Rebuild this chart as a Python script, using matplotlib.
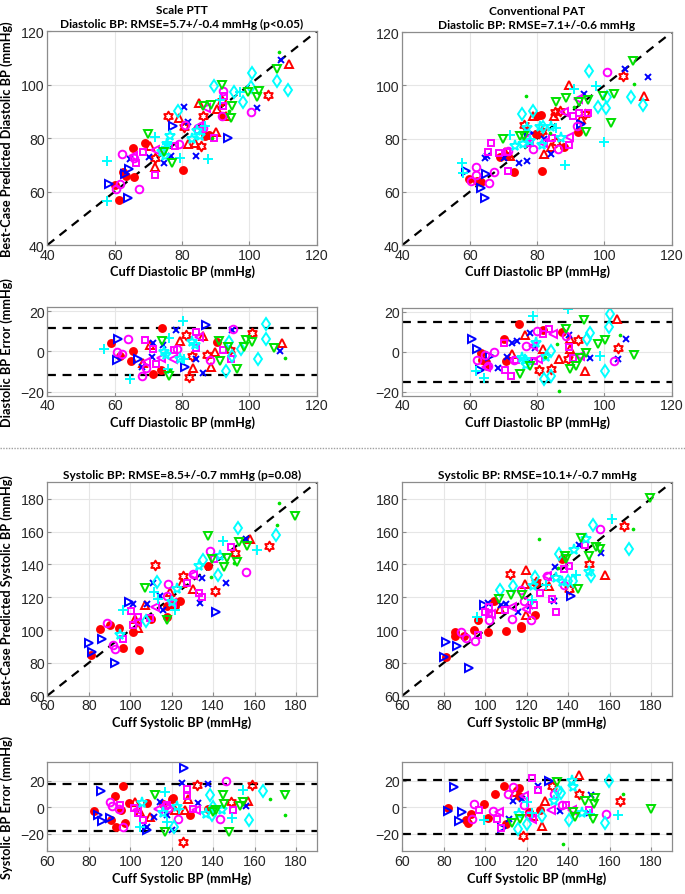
import numpy as np
import matplotlib.pyplot as plt
from matplotlib.path import Path

# ---------------- data ----------------
# each dict: subject -> (cuff values, predicted / error values)

ptt_dia = {
    "rf": ([60.2, 61.2, 62.4, 63.4, 65.5, 65.7, 69.0, 80.2, 87.9, 92.1, 86.8],
           [62.6, 56.8, 67.2, 66.0, 76.3, 65.3, 78.2, 68.2, 81.2, 88.2, 81.0]),
    "rh": ([75.9, 86.3, 80.6, 85.7, 92.0, 105.5, 72.0],
           [88.4, 88.2, 84.0, 77.2, 93.8, 96.2, 72.5]),
    "rt": ([79.2, 85.1, 90.3, 93.1, 90.0, 111.9, 70.5, 72.0, 81.9, 83.9],
           [87.4, 93.2, 91.0, 88.2, 82.2, 107.8, 76.9, 69.1, 77.8, 78.2]),
    "bx": ([80.7, 81.9, 102.2, 109.3, 70.3, 74.5, 76.6, 84.0, 64.4],
           [91.5, 85.9, 91.3, 109.3, 72.8, 70.7, 73.4, 73.2, 72.3]),
    "br": ([58.4, 64.1, 64.3, 77.4, 93.5, 63.0],
           [62.8, 57.6, 68.4, 84.7, 79.9, 66.5]),
    "mo": ([62.1, 60.4, 61.6, 67.1, 100.4, 92.1, 91.8, 79.2, 81.0, 86.3, 65.7],
           [74.1, 60.9, 62.8, 60.9, 89.7, 97.8, 88.4, 77.8, 84.9, 83.7, 72.6]),
    "ms": ([72.0, 68.5, 66.3, 78.0, 89.4, 92.3, 92.5, 84.8],
           [66.2, 74.7, 70.7, 77.2, 79.9, 91.9, 95.9, 83.2]),
    "ml": ([65.5, 72.0, 87.0, 85.0, 74.0],
           [73.4, 75.7, 91.2, 84.7, 75.4]),
    "cp": ([57.6, 57.6, 72.0, 79.4, 87.8, 91.3, 97.2, 86.9, 75.5],
           [71.3, 56.3, 80.3, 72.7, 72.2, 94.4, 97.2, 84.7, 78.0]),
    "cs": ([75.4, 75.0, 76.4, 82.9, 85.3, 84.3, 74.0],
           [77.8, 73.4, 80.9, 79.7, 80.9, 82.8, 75.0]),
    "cd": ([78.9, 89.4, 95.5, 98.2, 100.7, 100.4, 108.1, 111.6],
           [90.3, 99.4, 97.4, 93.4, 104.4, 99.0, 101.5, 98.2]),
    "gv": ([70.0, 76.9, 86.3, 88.5, 92.0, 94.8, 94.5, 99.7, 102.4, 103.0, 108.3, 74.5],
           [81.5, 70.7, 92.2, 92.4, 100.0, 92.2, 87.5, 97.2, 95.3, 97.8, 105.9, 74.7]),
    "gd": ([108.9, 94.0, 89.0],
           [112.1, 90.0, 80.0]),
}

pat_dia = {
    "rf": ([59.9, 62.2, 63.3, 68.9, 73.2, 80.1, 81.3, 81.5, 88.0, 92.3, 79.8, 71.1],
           [64.8, 64.2, 63.8, 73.1, 67.3, 88.7, 88.9, 67.7, 77.0, 82.6, 81.8, 73.6]),
    "rh": ([76.0, 85.2, 86.7, 94.4, 105.5, 80.5, 81.6, 85.7],
           [85.1, 90.2, 90.3, 89.3, 103.7, 82.1, 82.9, 78.6]),
    "rt": ([70.4, 82.0, 78.8, 84.9, 89.5, 93.2, 111.9, 84.2, 71.9],
           [74.9, 74.4, 88.7, 88.7, 100.2, 87.4, 96.2, 76.7, 73.6]),
    "bx": ([64.5, 65.2, 70.1, 74.7, 76.9, 82.0, 84.2, 93.9, 106.1, 113.0],
           [72.6, 73.4, 72.6, 70.7, 71.7, 79.9, 74.2, 96.9, 106.2, 103.3]),
    "br": ([58.9, 63.5, 64.5, 65.0, 77.5, 93.2],
           [68.0, 61.6, 57.6, 66.7, 82.1, 85.5]),
    "mo": ([60.5, 62.0, 61.8, 65.7, 67.3, 78.8, 86.2, 91.8, 100.7, 71.4],
           [64.2, 66.3, 69.2, 63.3, 67.3, 76.1, 76.1, 84.6, 105.2, 75.5]),
    "ms": ([66.2, 65.5, 68.7, 71.5, 71.2, 77.8, 84.5, 89.5, 90.7, 92.4, 95.1],
           [78.4, 74.9, 74.6, 68.0, 75.1, 78.4, 80.1, 77.6, 88.4, 89.5, 89.6]),
    "ml": ([76.6, 81.8, 87.9, 89.5, 92.1],
           [79.9, 78.4, 89.9, 80.5, 94.9]),
    "cp": ([57.7, 58.1, 71.9, 88.2, 90.9, 97.6, 100.0, 85.5],
           [70.8, 67.0, 81.4, 70.1, 98.7, 99.9, 78.6, 84.0]),
    "cs": ([73.4, 75.9, 77.8, 81.6, 84.2, 87.2, 77.0, 81.0],
           [77.4, 78.0, 79.2, 77.7, 84.3, 80.1, 84.0, 84.5]),
    "cd": ([75.4, 78.8, 95.4, 98.1, 100.4, 100.7, 108.0, 111.6, 81.8],
           [89.3, 90.4, 105.3, 91.8, 91.4, 95.5, 95.5, 92.7, 84.3]),
    "gv": ([69.9, 74.9, 76.0, 85.7, 88.5, 92.4, 94.6, 95.1, 99.6, 103.0, 102.1, 108.4],
           [79.9, 81.1, 81.1, 93.7, 95.2, 93.7, 82.4, 94.7, 96.2, 96.8, 85.9, 109.3]),
    "gd": ([76.6, 108.9, 84.0, 91.0],
           [96.2, 100.6, 82.0, 92.0]),
}

ptt_dia_err = {
    "rf": ([58.8, 61.6, 65.5, 64.7, 74.0, 73.7, 71.3, 90.3],
           [4.2, -2.5, 0.3, -4.7, 11.5, -9.2, -11.3, 4.5]),
    "rh": ([81.1, 82.2, 87.3, 94.3, 100.9, 82.9],
           [8.2, -12.5, -1.8, 0.7, 9.0, -2.2]),
    "rt": ([70.5, 79.4, 86.1, 83.4, 88.5, 89.7, 109.8, 68.5],
           [3.2, 5.3, 7.8, -8.0, -7.5, -0.2, 4.0, -5.5]),
    "bx": ([68.2, 71.3, 74.2, 78.2, 71.2, 84.1, 86.1, 94.7, 109.1],
           [-7.5, 4.2, 3.3, 10.8, -3.0, -3.8, -10.8, 10.8, 0.3]),
    "br": ([61.1, 60.8, 67.0, 80.9, 87.0],
           [6.2, -4.2, -3.8, -7.5, 13.3]),
    "mo": ([64.1, 60.6, 62.1, 68.1, 69.3, 78.4, 95.2, 88.3],
           [6.2, -0.5, -1.3, -12.2, -8.0, 1.2, 11.2, -4.2]),
    "ms": ([69.0, 71.5, 72.3, 77.6, 84.0, 84.0, 92.3, 94.5],
           [5.8, 1.2, -6.3, 0.8, 9.5, 1.7, 0.7, -3.8]),
    "ml": ([69.3, 73.7, 77.4, 85.1],
           [-5.2, -3.5, -3.8, 7.0]),
    "cp": ([56.8, 64.4, 76.2, 75.9, 80.2, 80.6],
           [1.2, -13.5, 6.5, -8.5, 15.3, -3.8]),
    "cs": ([74.5, 75.2, 79.4, 82.9, 83.9],
           [-0.2, -1.8, -3.8, 4.8, 3.2]),
    "cd": ([94.0, 94.7, 97.4, 93.1, 102.7, 105.0, 105.0],
           [4.8, -2.5, 1.2, -9.7, -3.8, 13.7, 6.2]),
    "gv": ([74.0, 76.2, 91.1, 91.3, 93.5, 96.4, 98.9, 98.4, 100.7, 107.4],
           [5.3, -12.2, 5.3, -4.7, 2.0, -8.5, 5.8, 2.0, 4.5, 1.5]),
    "gd": ([110.6, 76.5],
           [-3.3, -9.0]),
}

pat_dia_err = {
    "rf": ([63.5, 63.8, 64.8, 70.2, 70.9, 74.7, 81.8, 87.5, 65.1],
           [-0.5, -3.9, -5.2, 6.6, -4.4, 14.1, 10.9, 9.9, -6.9]),
    "rh": ([80.6, 84.2, 89.1, 92.1, 104.0],
           [-8.9, -8.6, -3.5, 5.9, 2.0]),
    "rt": ([72.7, 76.4, 81.8, 86.4, 89.9, 89.7, 94.4, 103.7],
           [-1.3, 8.2, 1.2, -3.4, 6.2, 1.2, -9.7, 16.3]),
    "bx": ([68.4, 71.1, 72.7, 74.1, 77.8, 77.8, 79.5, 89.4, 95.6, 104.0, 106.3],
           [-8.1, -2.7, 4.2, 5.4, 9.6, -5.0, 2.0, 8.4, -3.0, -3.4, 6.6]),
    "br": ([60.8, 62.2, 63.0, 66.0],
           [6.6, 1.5, -8.9, -2.2]),
    "mo": ([62.2, 64.5, 65.5, 67.2, 73.1, 76.8, 80.0, 88.7, 103.0],
           [-3.9, -1.8, -7.2, -0.2, -3.9, 2.9, 10.4, 7.9, -4.7]),
    "ms": ([70.1, 70.4, 72.4, 73.7, 79.1, 81.8, 83.6, 89.5, 90.7],
           [4.5, -9.2, -12.3, -4.2, -4.4, 8.7, 11.6, 2.4, -3.0]),
    "ml": ([64.9, 78.8, 80.3, 84.7, 92.8],
           [-7.6, 2.9, -3.5, 9.1, -2.2]),
    "cp": ([62.0, 64.2, 78.8, 89.2, 98.6],
           [-9.7, -13.1, 18.0, 21.7, -2.2]),
    "cs": ([75.4, 76.4, 76.8, 79.6, 82.8],
           [-3.0, -3.9, -6.4, 4.5, -2.5]),
    "cd": ([82.0, 84.2, 84.2, 94.8, 95.8, 100.3, 101.5, 101.7],
           [-13.4, -12.3, 0.3, 6.2, 9.2, -9.7, 12.4, 18.8]),
    "gv": ([74.9, 77.8, 88.7, 89.7, 91.7, 92.8, 93.9, 94.5, 98.1, 100.1, 108.9],
           [-10.9, -7.2, 11.6, -8.6, -7.2, -3.0, 15.8, -0.8, 3.7, 5.7, -1.8]),
    "gd": ([104.5, 86.5, 82.5, 86.0],
           [8.2, -19.8, -2.5, 4.0]),
}

ptt_sys = {
    "rf": ([81.1, 85.4, 90.2, 94.8, 96.7, 104.2, 101.5, 110.0, 117.6, 117.6, 121.6, 124.0, 137.7],
           [84.8, 100.7, 103.3, 101.1, 88.9, 88.1, 98.6, 106.8, 107.8, 114.9, 114.9, 117.6, 138.9]),
    "rh": ([112.0, 125.3, 140.9, 150.6, 167.2],
           [139.7, 132.8, 123.7, 147.0, 151.1]),
    "rt": ([102.3, 103.9, 107.1, 119.2, 124.8, 130.5, 157.8, 120.0],
           [106.8, 101.3, 115.5, 123.0, 128.7, 125.1, 155.2, 116.0]),
    "bx": ([110.8, 101.5, 108.0, 114.4, 116.0, 134.5, 133.7, 146.2, 155.9],
           [128.7, 115.9, 115.9, 121.0, 111.9, 131.6, 116.3, 128.7, 155.2]),
    "br": ([80.3, 81.4, 86.2, 92.7, 99.6, 141.4],
           [92.1, 86.8, 94.6, 79.9, 116.9, 110.8]),
    "mo": ([88.6, 92.7, 118.4, 117.6, 130.5, 138.5, 155.9, 91.5],
           [104.3, 88.5, 128.1, 121.0, 134.2, 148.0, 135.3, 91.0]),
    "ms": ([100.2, 96.4, 101.5, 103.9, 109.6, 127.3, 133.0, 134.5, 140.5, 148.7],
           [111.3, 94.6, 103.1, 107.8, 107.4, 128.7, 122.6, 120.4, 143.4, 150.5]),
    "ml": ([112.0, 120.0, 130.5, 103.5],
           [114.3, 116.5, 133.6, 105.0]),
    "cp": ([96.4, 111.7, 121.6, 145.0, 161.0, 113.5],
           [111.9, 123.0, 111.9, 154.0, 148.5, 119.0]),
    "cs": ([95.1, 122.7, 133.0, 143.3, 120.0],
           [97.0, 125.1, 138.9, 145.0, 117.0]),
    "cd": ([113.1, 107.6, 135.3, 142.2, 151.8, 170.4],
           [129.1, 105.2, 142.4, 133.8, 162.1, 157.6]),
    "gv": ([107.1, 137.7, 139.3, 145.3, 146.9, 151.4, 152.7, 156.2, 179.7, 117.6],
           [125.5, 157.2, 143.0, 138.3, 143.8, 141.4, 153.6, 151.1, 169.2, 105.8]),
    "gd": ([171.7, 170.7, 138.8, 150.0],
           [177.6, 164.1, 132.6, 141.0]),
}

pat_sys = {
    "rf": ([81.3, 85.2, 85.2, 90.0, 94.8, 96.4, 101.2, 104.4, 110.0, 117.2, 117.2, 124.1, 137.2, 124.5],
           [83.4, 98.6, 96.6, 96.2, 100.3, 105.8, 99.0, 117.6, 99.7, 101.1, 102.3, 109.2, 143.0, 128.7]),
    "rh": ([111.9, 124.7, 140.4, 150.0, 167.2],
           [134.2, 129.1, 124.7, 140.3, 163.3]),
    "rt": ([107.1, 119.3, 119.9, 130.8, 158.0, 119.6],
           [112.9, 128.1, 136.3, 126.7, 133.6, 109.2]),
    "bx": ([101.4, 107.6, 110.0, 115.6, 121.5, 133.7, 133.2, 145.5, 155.9],
           [116.3, 115.3, 115.9, 110.8, 114.9, 138.3, 117.6, 151.5, 146.8]),
    "br": ([81.3, 86.4, 80.0, 92.4, 99.6, 141.2],
           [92.9, 90.5, 83.4, 76.7, 115.3, 121.0]),
    "mo": ([88.4, 90.8, 95.3, 102.0, 112.7, 117.2, 118.8, 122.0, 130.0, 138.0, 155.6],
           [99.0, 95.2, 93.1, 105.8, 106.8, 124.1, 117.4, 105.8, 133.2, 127.7, 161.7]),
    "ms": ([96.4, 100.1, 101.7, 102.0, 109.7, 123.6, 126.3, 132.1, 134.3, 138.0, 140.4, 148.4],
           [97.0, 110.8, 113.9, 109.8, 112.5, 115.3, 122.6, 118.6, 110.8, 136.9, 138.7, 151.5]),
    "ml": ([102.8, 112.9, 119.6, 130.0],
           [109.8, 113.9, 112.9, 133.0]),
    "cp": ([96.0, 129.2, 143.6, 161.2, 122.5],
           [107.8, 127.7, 133.6, 167.4, 118.0]),
    "cs": ([123.1, 137.2, 142.8, 134.0, 148.7, 150.0],
           [127.1, 129.1, 148.5, 131.6, 155.6, 135.3]),
    "cd": ([107.3, 113.2, 124.1, 135.6, 140.1, 142.3, 152.0, 151.2, 169.5],
           [124.1, 126.7, 132.2, 146.4, 129.6, 129.6, 163.7, 132.8, 149.5]),
    "gv": ([106.8, 112.4, 117.7, 138.5, 139.1, 146.4, 150.0, 153.5, 155.6, 144.8, 179.5],
           [118.6, 121.4, 121.4, 145.4, 143.0, 156.0, 145.4, 150.5, 149.1, 125.1, 180.4]),
    "gd": ([126.0, 171.2, 135.0],
           [155.2, 161.3, 138.0]),
}

ptt_sys_err = {
    "rf": ([82.7, 92.7, 96.7, 93.0, 90.7, 99.6, 95.4, 97.7, 108.3, 116.0, 120.0, 120.8, 128.9, 137.7],
           [-3.0, 8.1, 15.7, -14.7, -9.4, 3.3, -2.0, -12.4, 3.3, 2.5, 6.3, 6.8, -6.3, -1.3]),
    "rh": ([132.4, 125.6, 148.5, 158.8],
           [17.0, -26.1, 3.8, 16.5]),
    "rt": ([102.3, 104.6, 109.6, 121.6, 126.4, 127.9, 156.7],
           [3.8, -3.8, -7.6, -2.5, -2.5, 6.3, 4.3]),
    "bx": ([124.8, 137.4, 108.3, 111.5, 114.4, 117.6, 120.0, 132.9, 155.9],
           [18.2, 17.2, -15.2, -7.6, 3.8, -5.8, -17.7, 3.0, 0.5]),
    "br": ([85.7, 84.3, 86.2, 90.2, 108.3, 126.0],
           [12.2, -5.6, -10.6, -8.4, -17.0, 29.6]),
    "mo": ([90.2, 91.0, 94.6, 96.7, 116.8, 118.4, 123.2, 143.3, 146.1],
           [3.8, 0.8, -1.3, -15.2, 0.8, -0.8, -8.9, -8.9, 19.7]),
    "ms": ([95.1, 102.0, 103.9, 106.3, 117.6, 127.3, 127.3, 130.5, 149.8],
           [1.3, -0.8, -4.3, -9.4, 1.3, 13.4, 8.1, -1.3, -1.8]),
    "ml": ([103.1, 113.2, 131.7],
           [-1.8, -1.3, -2.5]),
    "cp": ([104.6, 116.8, 117.6, 154.6, 149.3, 123.7],
           [-14.7, 11.4, -10.9, 12.7, -8.1, -1.3]),
    "cs": ([105.5, 116.0, 122.7, 136.8, 144.2],
           [3.3, -4.3, 0.0, -5.1, -2.5]),
    "cd": ([121.3, 138.5, 139.3, 140.1, 157.3, 163.9],
           [-15.2, 8.9, -5.8, 0.0, -9.4, 12.2]),
    "gv": ([112.0, 116.8, 140.1, 141.4, 144.9, 145.3, 147.9, 153.0, 154.3, 174.7],
           [9.4, -19.0, -3.8, -1.8, 8.9, 2.5, -19.0, 0.8, 3.8, 9.4]),
    "gd": ([167.5, 174.7],
           [6.3, -5.6]),
}

pat_sys_err = {
    "rf": ([82.1, 90.8, 91.9, 93.2, 99.6, 101.2, 104.9, 109.2, 110.0, 116.4, 116.1, 121.2, 126.3],
           [-0.8, -9.5, -11.8, -5.0, 2.5, -8.3, 10.0, 15.8, -12.5, 14.3, 8.3, -3.8, -2.5]),
    "rh": ([118.3, 132.1, 145.2, 165.1],
           [-21.8, 16.3, 10.0, 4.5]),
    "rt": ([114.4, 123.1, 127.6, 128.9, 145.2],
           [11.8, -6.8, -14.3, 5.0, 24.5]),
    "bx": ([111.6, 113.5, 118.0, 125.7, 135.9, 151.2, 150.3],
           [-8.8, 4.5, 6.3, 16.3, -3.0, 9.3, -4.5]),
    "br": ([82.1, 84.9, 88.8, 87.6, 108.1, 130.8],
           [-3.0, 15.0, -3.8, -10.8, -15.5, 19.5]),
    "mo": ([94.4, 93.7, 103.6, 110.8, 113.5, 118.8, 120.9, 133.2, 137.2, 158.3],
           [2.5, -9.3, -3.0, 10.0, 15.5, 1.3, -6.3, 10.0, 1.3, -5.0]),
    "ms": ([97.2, 105.5, 107.6, 122.5, 125.7, 139.1, 150.0],
           [-1.8, -8.8, -15.5, 22.5, 13.3, 1.8, -2.5]),
    "ml": ([106.5, 118.8, 122.5, 131.6, 141.7],
           [-3.3, 8.8, -9.3, -1.8, -2.0]),
    "cp": ([99.6, 120.4, 122.8, 164.3, 150.5],
           [-10.0, 3.8, -4.3, -5.8, -5.0]),
    "cs": ([116.1, 133.2, 141.9, 146.8, 142.2],
           [-5.5, 5.0, 20.0, -4.3, 15.5]),
    "cd": ([115.6, 120.1, 127.6, 135.3, 136.5, 140.4, 158.0, 159.5],
           [-16.3, -13.0, -7.0, 12.5, 10.5, -10.0, -11.8, 20.0]),
    "gv": ([112.9, 116.7, 134.8, 142.5, 143.3, 148.0, 151.9, 152.4, 152.9, 180.0],
           [-11.8, -9.3, 18.8, -3.8, -7.5, 5.0, -8.8, 2.5, 6.8, -1.3]),
    "gd": ([137.5, 166.4],
           [-28.3, 10.0]),
}

# limits of agreement drawn as dashed lines
loa = {"ptt_dia": 11.8, "pat_dia": 15.2, "ptt_sys": 17.8, "pat_sys": 20.3}

# ---------------- styles ----------------
_ang = np.deg2rad(np.arange(12) * 30 + 90)
_rad = np.where(np.arange(12) % 2 == 0, 1.0, 0.577)
HEXAGRAM = Path(np.column_stack([_rad * np.cos(_ang), _rad * np.sin(_ang)]).tolist() + [[0, 1]],
                closed=True)

RED, GRN, BLU, CYA, MAG = "#ff0000", "#00e000", "#0000ff", "#00ffff", "#ff00ff"
STYLES = {
    "rf": dict(marker="o", color=RED, mfc=RED, ms=5),
    "rh": dict(marker=HEXAGRAM, color=RED, mfc="none", ms=7),
    "rt": dict(marker="^", color=RED, mfc="none", ms=6),
    "bx": dict(marker="x", color=BLU, ms=5),
    "br": dict(marker=">", color=BLU, mfc="none", ms=6),
    "mo": dict(marker="o", color=MAG, mfc="none", ms=5.5),
    "ms": dict(marker="s", color=MAG, mfc="none", ms=5),
    "ml": dict(marker="<", color=MAG, mfc="none", ms=6),
    "cp": dict(marker="+", color=CYA, ms=6.5),
    "cs": dict(marker="*", color=CYA, mfc="none", ms=8),
    "cd": dict(marker="d", color=CYA, mfc="none", ms=6.5),
    "gv": dict(marker="v", color=GRN, mfc="none", ms=6),
    "gd": dict(marker=".", color=GRN, ms=2.5),
}

LABEL_FONT = dict(family="Lato", weight="bold", fontsize=9.2)
TITLE_FONT = dict(family="Lato", weight="bold", fontsize=8.6)
plt.rcParams["font.family"] = "Liberation Sans"

fig = plt.figure(figsize=(6.85, 8.95), dpi=100)

W = 0.3933
pos = {
    "a1": [0.0691, 0.7251, W, 0.2388], "a2": [0.5873, 0.7251, W, 0.2377],
    "a3": [0.0691, 0.5568, W, 0.0988], "a4": [0.5873, 0.5568, W, 0.0980],
    "a5": [0.0691, 0.2216, W, 0.2384], "a6": [0.5873, 0.2216, W, 0.2384],
    "a7": [0.0691, 0.0477, W, 0.0994], "a8": [0.5873, 0.0477, W, 0.0994],
}
YLAB_X = -0.128


def style_ax(ax):
    ax.grid(True, color="#e6e6e6", lw=0.8)
    ax.set_axisbelow(True)
    for s in ax.spines.values():
        s.set_color("#8c8c8c")
        s.set_linewidth(0.9)
    ax.tick_params(direction="in", length=3, color="#8c8c8c", labelsize=10.2,
                   labelcolor="#262626", pad=2)


def draw(ax, data):
    for key, (xs, ys) in data.items():
        st = STYLES[key]
        ax.plot(xs, ys, ls="none", mew=1.4, **st)


def scatter_panel(ax, data, lim, ticks, xlab, title, ylab=None):
    style_ax(ax)
    ax.plot(lim, lim, "k--", lw=1.6, dashes=(4, 3), zorder=1)
    draw(ax, data)
    ax.set_xlim(lim)
    ax.set_ylim(lim)
    ax.set_xticks(ticks)
    ax.set_yticks(ticks)
    ax.set_xlabel(xlab, labelpad=2, **LABEL_FONT)
    ax.set_title(title, pad=3, linespacing=1.3, **TITLE_FONT)
    if ylab:
        ax.set_ylabel(ylab, **LABEL_FONT)
        ax.yaxis.set_label_coords(YLAB_X, 0.5)


def error_panel(ax, data, xlim, xticks, ylim, lo, xlab, ylab=None):
    style_ax(ax)
    for v in (lo, -lo):
        ax.axhline(v, color="k", ls="--", lw=1.6, dashes=(4, 3), zorder=1)
    draw(ax, data)
    ax.set_xlim(xlim)
    ax.set_ylim(ylim)
    ax.set_xticks(xticks)
    ax.set_yticks([-20, 0, 20])
    ax.set_xlabel(xlab, labelpad=2, **LABEL_FONT)
    if ylab:
        ax.set_ylabel(ylab, **LABEL_FONT)
        ax.yaxis.set_label_coords(YLAB_X, 0.5)


dia_lim, dia_ticks = (40, 120), [40, 60, 80, 100, 120]
sys_lim, sys_ticks = (60, 190), [60, 80, 100, 120, 140, 160, 180]

a1 = fig.add_axes(pos["a1"])
scatter_panel(a1, ptt_dia, dia_lim, dia_ticks, "Cuff Diastolic BP (mmHg)",
              "Scale PTT\nDiastolic BP: RMSE=5.7+/-0.4 mmHg (p<0.05)",
              "Best-Case Predicted Diastolic BP (mmHg)")
a2 = fig.add_axes(pos["a2"])
scatter_panel(a2, pat_dia, dia_lim, dia_ticks, "Cuff Diastolic BP (mmHg)",
              "Conventional PAT\nDiastolic BP: RMSE=7.1+/-0.6 mmHg")

a3 = fig.add_axes(pos["a3"])
error_panel(a3, ptt_dia_err, dia_lim, dia_ticks, (-22, 22), loa["ptt_dia"],
            "Cuff Diastolic BP (mmHg)", "Diastolic BP Error (mmHg)")
a4 = fig.add_axes(pos["a4"])
error_panel(a4, pat_dia_err, dia_lim, dia_ticks, (-22, 22), loa["pat_dia"],
            "Cuff Diastolic BP (mmHg)")

a5 = fig.add_axes(pos["a5"])
scatter_panel(a5, ptt_sys, sys_lim, sys_ticks, "Cuff Systolic BP (mmHg)",
              "Systolic BP: RMSE=8.5+/-0.7 mmHg (p=0.08)",
              "Best-Case Predicted Systolic BP (mmHg)")
a6 = fig.add_axes(pos["a6"])
scatter_panel(a6, pat_sys, sys_lim, sys_ticks, "Cuff Systolic BP (mmHg)",
              "Systolic BP: RMSE=10.1+/-0.7 mmHg")

a7 = fig.add_axes(pos["a7"])
error_panel(a7, ptt_sys_err, sys_lim, sys_ticks, (-33.5, 34), loa["ptt_sys"],
            "Cuff Systolic BP (mmHg)", "Systolic BP Error (mmHg)")
a8 = fig.add_axes(pos["a8"])
error_panel(a8, pat_sys_err, sys_lim, sys_ticks, (-33.5, 34), loa["pat_sys"],
            "Cuff Systolic BP (mmHg)")

# dotted separator between diastolic and systolic blocks
fig.add_artist(plt.Line2D([0, 1], [1 - 449 / 895] * 2, transform=fig.transFigure,
                          color="#a0a0a0", ls=(0, (1, 1)), lw=1))

fig.savefig("out.png", dpi=100)
